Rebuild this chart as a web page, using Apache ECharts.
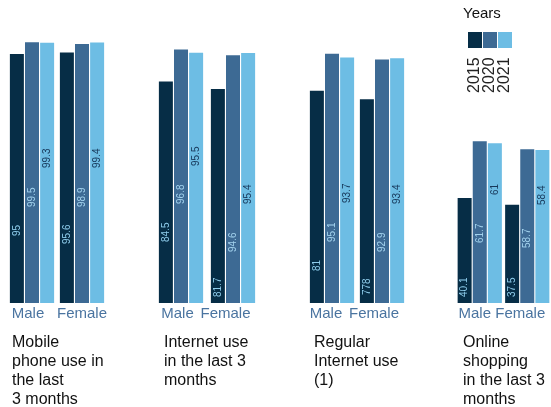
<!DOCTYPE html>
<html>
<head>
<meta charset="utf-8">
<style>
  html, body { margin: 0; padding: 0; background: #fff; }
  #chart { width: 551px; height: 407px; }
</style>
<script src="https://cdn.jsdelivr.net/npm/echarts@6.0.0/dist/echarts.min.js"></script>
</head>
<body>
<div id="chart"></div>
<script>
const indicators = [
  'Mobile\nphone use in\nthe last\n3 months',
  'Internet use\nin the last 3\nmonths',
  'Regular\nInternet use\n(1)',
  'Online\nshopping\nin the last 3\nmonths'
]
const sexes = ['Male', 'Female']
const years = ['2015', '2020', '2021']
// two values per indicator: male, female
const values2015 = [95, 95.6, 84.5, 81.7, 81, 77.8, 40.1, 37.5]
const values2020 = [99.5, 98.9, 96.8, 94.6, 95.1, 92.9, 61.7, 58.7]
const values2021 = [99.3, 99.4, 95.5, 95.4, 93.7, 93.4, 61, 58.4]

// where each value label starts, px above the bar base (as in the original)
const labelLift = [
  [67, 59, 61, 6, 32, 8, 6, 6],
  [96, 96, 99, 51, 61, 51, 60, 55],
  [135, 135, 137, 99, 100, 99, 108, 98]
]
// the original prints 77.8 as "778"
const labelText = { '0-5': '778' }
// Male / Female labels sit a little left of their bar groups, px
const sexLabelShift = [[4, 0], [3.5, 7.5], [6, 8], [5, 7]]

const font = '"Liberation Sans", Arial, sans-serif'
const colors = ['#062d46', '#3d6a94', '#6dbde4']
const labelColors = ['#8fcdec', '#a3d3ee', '#17385a']
const gridLeft = [7, 155, 307, 456]
const gridWidth = [100, 104, 100, 100]
const titleLeft = [12, 164, 314, 463]

const seriesValues = [values2015, values2020, values2021]
const series = []
indicators.forEach((_, i) => {
  seriesValues.forEach((vals, j) => {
    series.push({
      type: 'bar',
      name: years[j],
      xAxisIndex: i,
      yAxisIndex: i,
      barWidth: 14,
      barGap: '8%',
      itemStyle: { color: colors[j] },
      label: {
        show: true,
        rotate: 90,
        position: 'insideBottom',
        align: 'left',
        verticalAlign: 'middle',
        fontSize: 10,
        fontFamily: font,
        color: labelColors[j]
      },
      data: [0, 1].map(k => {
        const idx = 2 * i + k
        const item = { value: vals[idx], label: { distance: labelLift[j][idx] } }
        const txt = labelText[j + '-' + idx]
        if (txt) item.label.formatter = txt
        return item
      })
    })
  })
})

const graphic = [{
  type: 'text', left: 463, top: 6,
  style: { text: 'Years', fontSize: 15, fontFamily: font, fill: '#111' }
}]
years.forEach((y, j) => {
  graphic.push({
    type: 'rect',
    shape: { x: 468 + 15 * j, y: 32, width: 14, height: 16 },
    style: { fill: colors[j] }
  })
  graphic.push({
    type: 'text',
    x: 475 + 15 * j,
    y: 93,
    rotation: Math.PI / 2,
    style: { text: y, fontSize: 16, fontFamily: font, fill: '#222', align: 'left', verticalAlign: 'middle' }
  })
})

const option = {
  animation: false,
  backgroundColor: '#fff',
  title: indicators.map((t, i) => ({
    text: t,
    left: titleLeft[i],
    top: 333,
    padding: 0,
    textStyle: { fontSize: 16, fontWeight: 'normal', fontFamily: font, color: '#111', lineHeight: 19 }
  })),
  grid: indicators.map((_, i) => ({ left: gridLeft[i], width: gridWidth[i], top: 41, height: 262 })),
  xAxis: indicators.map((_, i) => ({
    type: 'category',
    gridIndex: i,
    data: sexes.map((s, k) => ({
      value: s,
      textStyle: { padding: [0, 2 * sexLabelShift[i][k], 0, 0] }
    })),
    axisLine: { show: false },
    axisTick: { show: false },
    axisLabel: { interval: 0, hideOverlap: false, color: '#4a74a0', fontSize: 15, fontFamily: font, margin: 3 }
  })),
  yAxis: indicators.map((_, i) => ({ type: 'value', gridIndex: i, min: 0, max: 100, show: false })),
  graphic,
  series
}

const myChart = echarts.init(document.getElementById('chart'))
myChart.setOption(option)
</script>
</body>
</html>
